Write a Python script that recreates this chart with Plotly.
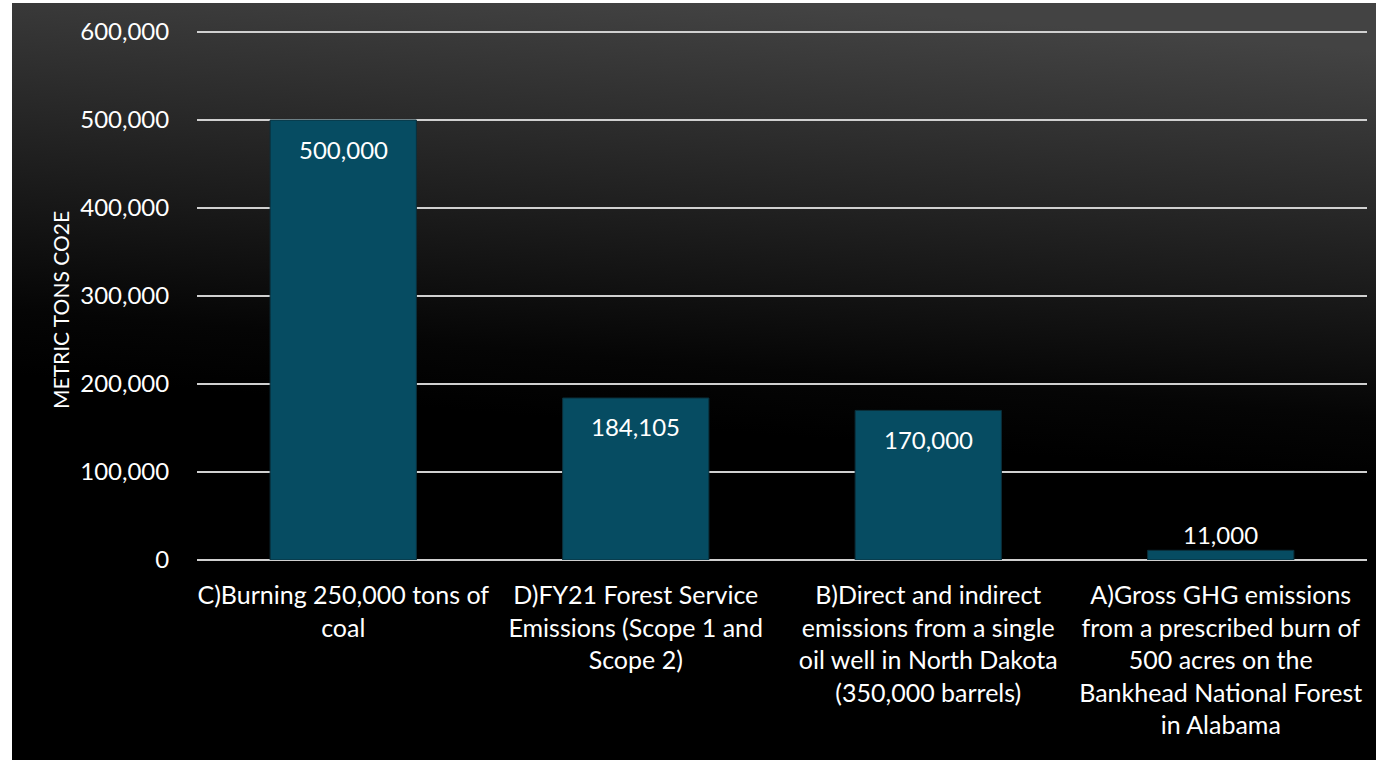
import base64
import plotly.graph_objects as go

# Emission comparison data (metric tons CO2e)
categories = [
    "C)Burning 250,000 tons of<br>coal",
    "D)FY21 Forest Service<br>Emissions (Scope 1 and<br>Scope 2)",
    "B)Direct and indirect<br>emissions from a single<br>oil well in North Dakota<br>(350,000 barrels)",
    "A)Gross GHG emissions<br>from a prescribed burn of<br>500 acres on the<br>Bankhead National Forest<br>in Alabama",
]
values = [500000, 184105, 170000, 11000]
y_ticks = [0, 100000, 200000, 300000, 400000, 500000, 600000]

W, H = 1376, 760
L, R, T, B = 197, 9, 26, 200
plot_w = W - L - R
plot_h = H - T - B
# axis scale: 100,000 per 88 px; top padded a few px so the 600,000 gridline shows
Y_MAX = 100000 * plot_h / 88

FONT = "Lato"
BAR = "#064c62"

# Dark gradient backdrop as an inline SVG
svg = (
    '<svg xmlns="http://www.w3.org/2000/svg" width="1364" height="757" preserveAspectRatio="none">'
    '<defs><linearGradient id="g" x1="0.56" y1="0" x2="0.48" y2="0.56">'
    '<stop offset="0" stop-color="#434343"/>'
    '<stop offset="0.4" stop-color="#262626"/>'
    '<stop offset="0.85" stop-color="#050505"/>'
    '<stop offset="1" stop-color="#000000"/>'
    '</linearGradient></defs>'
    '<rect width="1364" height="757" fill="url(#g)"/></svg>'
)
bg_uri = "data:image/svg+xml;base64," + base64.b64encode(svg.encode()).decode()

fig = go.Figure()
fig.add_trace(go.Bar(
    x=categories,
    y=values,
    marker=dict(color=BAR, line=dict(color="#0b2f3b", width=1)),
    hoverinfo="skip",
))

# Value labels: inside the top of tall bars, above short ones
for cat, v in zip(categories, values):
    inside = v > 50000
    fig.add_annotation(
        x=cat, y=v, xref="x", yref="y",
        text=f"{v:,}",
        showarrow=False,
        yanchor="middle",
        yshift=-29 if inside else 16,
        font=dict(family=FONT, size=24, color="white"),
    )

# Y axis title
fig.add_annotation(
    text="METRIC TONS CO2E",
    xref="paper", yref="paper",
    x=(60 - L) / plot_w, y=(H - B - 310) / plot_h,
    xanchor="center", yanchor="middle",
    textangle=-90, showarrow=False,
    font=dict(family=FONT, size=21, color="white"),
)

fig.add_layout_image(
    source=bg_uri,
    xref="paper", yref="paper",
    x=(12 - L) / plot_w, y=(H - B - 3) / plot_h,
    sizex=(W - 12) / plot_w, sizey=(H - 3) / plot_h,
    xanchor="left", yanchor="top",
    sizing="stretch", layer="below",
)

fig.update_layout(
    width=W, height=H,
    margin=dict(l=L, r=R, t=T, b=B, autoexpand=False),
    paper_bgcolor="white",
    plot_bgcolor="rgba(0,0,0,0)",
    bargap=0.5,
    showlegend=False,
    font=dict(family=FONT, color="white"),
    xaxis=dict(
        tickfont=dict(family=FONT, size=25, color="white"),
        ticks="outside", ticklen=13, tickcolor="rgba(0,0,0,0)",
        showgrid=False, showline=False, zeroline=False,
        tickangle=0, automargin=False,
    ),
    yaxis=dict(
        range=[0, Y_MAX],
        tickvals=y_ticks,
        tickformat=",d",
        tickfont=dict(family=FONT, size=24, color="white"),
        ticks="outside", ticklen=22, tickcolor="rgba(0,0,0,0)",
        showgrid=True, gridcolor="#d0d0d0", gridwidth=1.5,
        zeroline=True, zerolinecolor="#d0d0d0", zerolinewidth=1.5,
        showline=False, automargin=False,
    ),
)

fig.write_html("out.html")
